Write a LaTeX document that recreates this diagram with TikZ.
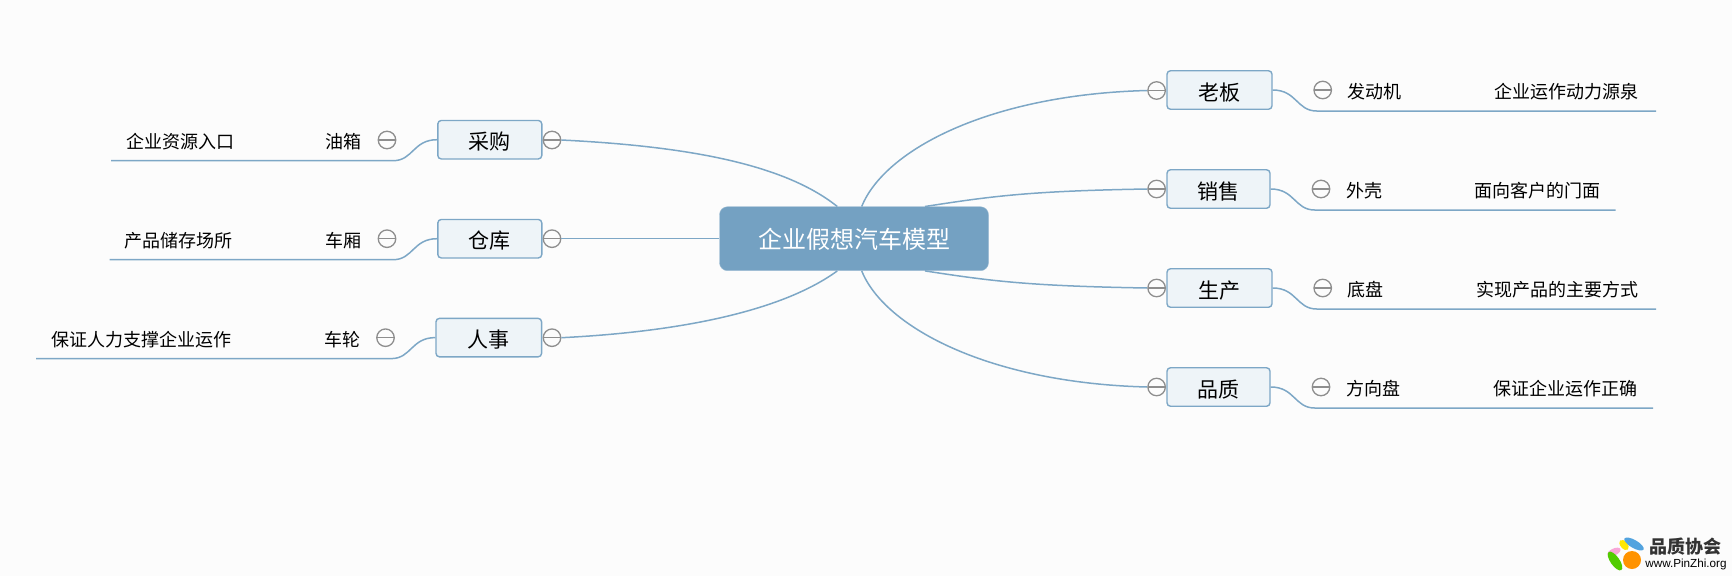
\documentclass[tikz,border=0pt]{standalone}
\usepackage{fontspec}
\setmainfont{Noto Sans CJK SC}
\newfontfamily\logofont{Liberation Sans}
\definecolor{pagebg}{HTML}{FCFCFC}
\definecolor{mainblue}{HTML}{74A1C2}
\definecolor{linkblue}{HTML}{7DA7C6}
\definecolor{boxfill}{HTML}{EEF4F8}
\definecolor{foldgray}{HTML}{8E8E8E}
\begin{document}
\begin{tikzpicture}[x=1pt,y=-1pt,
    rootbox/.style = {shape=rectangle, rounded corners=8pt, fill=mainblue, draw=mainblue!70!white,
      text=white, minimum width=269pt, minimum height=64pt, inner sep=0pt,
      text height=23pt, text depth=3pt, font=\fontsize{24}{28}\selectfont},
    topicbox/.style = {shape=rectangle, rounded corners=3.5pt, fill=boxfill, draw=linkblue,
      line width=1.4pt, minimum width=104pt, minimum height=38.5pt, inner sep=0pt,
      text height=22pt, text depth=2pt, font=\fontsize{21}{25}\selectfont},
    subtext/.style = {inner sep=0pt, font=\fontsize{18}{22}\selectfont},
    foldmark/.style = {shape=circle, draw=foldgray, line width=1.3pt, fill=pagebg, minimum size=17.5pt,
      inner sep=0pt, path picture={\draw[foldgray, line width=1.3pt]
        (path picture bounding box.west) -- (path picture bounding box.east);}},
    link/.style = {draw=linkblue, line width=1.5pt}]
    \path[use as bounding box, fill=pagebg] (0,0) rectangle (1732,576);
    % centre
    \node[rootbox] (model) at (854,238.7) {企业假想汽车模型};
    % right side
    \node[topicbox, minimum width=105pt] (boss) at (1219.5,90) {老板};
    \node[topicbox, minimum width=103pt] (sales) at (1218.5,189) {销售};
    \node[topicbox, minimum width=105pt] (make) at (1219.5,288) {生产};
    \node[topicbox, minimum width=103pt] (quality) at (1218.5,387) {品质};
    \node[foldmark] (bossin) at (1156.6,90.5) {};
    \node[foldmark] (salesin) at (1156.6,189) {};
    \node[foldmark] (makein) at (1156.6,288) {};
    \node[foldmark] (qualityin) at (1156.6,387) {};
    \node[foldmark] (bossout) at (1322.7,90) {};
    \node[foldmark] (salesout) at (1321,189) {};
    \node[foldmark] (makeout) at (1322.7,288) {};
    \node[foldmark] (qualityout) at (1321,387) {};
    \node[subtext, anchor=west] (engine) at (1347,91.5) {发动机};
    \node[subtext, anchor=west] (shell) at (1346,190.5) {外壳};
    \node[subtext, anchor=west] (chassis) at (1347,289.5) {底盘};
    \node[subtext, anchor=west] (wheelsteer) at (1346,388.5) {方向盘};
    \node[subtext, anchor=east] (bossnote) at (1639,91.5) {企业运作动力源泉};
    \node[subtext, anchor=east] (salesnote) at (1601,190.5) {面向客户的门面};
    \node[subtext, anchor=east] (makenote) at (1638.5,289.5) {实现产品的主要方式};
    \node[subtext, anchor=east] (qualitynote) at (1637.5,388.5) {保证企业运作正确};
    % left side
    \node[topicbox] (buy) at (489.8,139.7) {采购};
    \node[topicbox] (store) at (489.8,238.7) {仓库};
    \node[topicbox, minimum width=105.6pt] (staff) at (488.8,337.6) {人事};
    \node[foldmark] (buyin) at (552,140) {};
    \node[foldmark] (storein) at (552,238.7) {};
    \node[foldmark] (staffin) at (552,337.7) {};
    \node[foldmark] (buyout) at (387,140) {};
    \node[foldmark] (storeout) at (387,238.7) {};
    \node[foldmark] (staffout) at (385.5,337.7) {};
    \node[subtext, anchor=east] (tank) at (362,141.5) {油箱};
    \node[subtext, anchor=east] (cabin) at (362,240.5) {车厢};
    \node[subtext, anchor=east] (wheel) at (360.5,339.5) {车轮};
    \node[subtext, anchor=east] (buynote) at (235,141.5) {企业资源入口};
    \node[subtext, anchor=east] (storenote) at (233,240.5) {产品储存场所};
    \node[subtext, anchor=east] (staffnote) at (231.5,339.5) {保证人力支撑企业运作};
    % free ends of the underlines
    \coordinate (bossend) at (1656,111);
    \coordinate (salesend) at (1615.5,210);
    \coordinate (makeend) at (1656,309);
    \coordinate (qualityend) at (1653,408);
    \coordinate (buyend) at (111,160.7);
    \coordinate (storeend) at (109.5,259.7);
    \coordinate (staffend) at (36,358.5);
    % links from the centre
    \draw[link] ([xshift=7.7pt]model.north) .. controls +(23,-57) and +(-157,4) .. (bossin.west);
    \draw[link] ([xshift=71pt]model.north) .. controls +(65,-10) and +(-120,2) .. (salesin.west);
    \draw[link] ([xshift=71pt]model.south) .. controls +(65,10) and +(-120,-2) .. (makein.west);
    \draw[link] ([xshift=7.7pt]model.south) .. controls +(23,57) and +(-157,-4) .. (qualityin.west);
    \draw[link] ([xshift=-16.7pt]model.north) .. controls +(-55,-44) and +(120,6) .. (buyin.east);
    \draw[link] (model.west) -- (storein.east);
    \draw[link] ([xshift=-16.7pt]model.south) .. controls +(-55,40) and +(120,-6) .. (staffin.east);
    % underlines
    \draw[link] (boss.east) .. controls +(24,0) and +(-20,0) .. ++(44,21) -- (bossend);
    \draw[link] (sales.east) .. controls +(24,0) and +(-20,0) .. ++(44,21) -- (salesend);
    \draw[link] (make.east) .. controls +(24,0) and +(-20,0) .. ++(44,21) -- (makeend);
    \draw[link] (quality.east) .. controls +(24,0) and +(-20,0) .. ++(44,21) -- (qualityend);
    \draw[link] (buy.west) .. controls +(-24,0) and +(20,0) .. ++(-44,21) -- (buyend);
    \draw[link] (store.west) .. controls +(-24,0) and +(20,0) .. ++(-44,21) -- (storeend);
    \draw[link] (staff.west) .. controls +(-24,0) and +(20,0) .. ++(-44,21) -- (staffend);
    % logo
    \fill[magenta!35] (1614,552) ellipse[x radius=7pt, y radius=3.5pt, rotate=25];
    \fill[yellow!90!orange] (1624,545) ellipse[x radius=6pt, y radius=3.5pt, rotate=-50];
    \fill[cyan!70!blue!70] (1634,544) ellipse[x radius=11pt, y radius=4pt, rotate=-30];
    \fill[green!60!yellow!80!black] (1615,561) ellipse[x radius=11pt, y radius=4.5pt, rotate=-55];
    \fill[orange!85!yellow] (1632,560) circle[radius=9pt];
    \node[inner sep=0pt, font=\fontsize{18}{20}\selectfont\bfseries, text=black!80] (logotitle) at (1685.5,547) {品质协会};
    \node[inner sep=0pt, font=\logofont\fontsize{11.7}{14}\selectfont] (logoweb) at (1686,564) {www.PinZhi.org};
  \end{tikzpicture}
\end{document}
